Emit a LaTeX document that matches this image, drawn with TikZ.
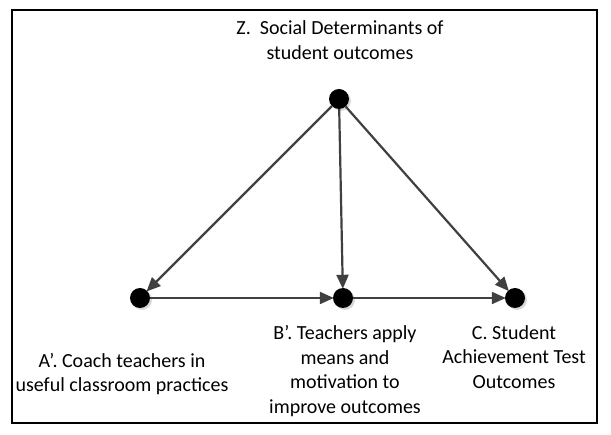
\documentclass[tikz,border=0pt]{standalone}
\usepackage{fontspec}
\setmainfont{Carlito}
\usetikzlibrary{arrows.meta}
\definecolor{arrowgray}{HTML}{404040}
\tikzset{
  dot/.style={circle,fill=black,inner sep=0pt,minimum size=20pt},
  dotshadow/.style={circle,fill=black!15,inner sep=0pt,minimum size=20pt},
  conn/.style={draw=arrowgray,line width=2.2pt,-{Triangle[length=14pt,width=12pt]},shorten >=-1pt},
  lbl/.style={align=center,font=\fontsize{20}{24.5}\selectfont,inner sep=0pt},
  frame/.style={draw=black,line width=1.4pt}
}
\begin{document}
\begin{tikzpicture}[x=1pt,y=-1pt]
\useasboundingbox (0,0) rectangle (611,435);
\draw[frame] (12,10) rectangle (597,423);
% shadows
\node[dotshadow] at (341,101) {};
\node[dotshadow] at (142,300) {};
\node[dotshadow] at (345,300) {};
\node[dotshadow] at (517,300) {};
% nodes
\node[dot] (Z) at (339,99) {};
\node[dot] (A) at (140,298) {};
\node[dot] (B) at (343,298) {};
\node[dot] (C) at (515,298) {};
% connectors
\draw[conn] (Z) -- (A);
\draw[conn] (Z) -- (B);
\draw[conn] (Z) -- (C);
\draw[conn] (A) -- (B);
\draw[conn] (B) -- (C);
% labels
\node[lbl] (tZ) at (340,40) {Z.\ \ Social Determinants of\\student outcomes};
\node[lbl] (tA) at (122,374) {A’. Coach teachers in\\useful classroom practices};
\node[lbl] (tB) at (345,371) {B’. Teachers apply\\means and\\motivation to\\improve outcomes};
\node[lbl] (tC) at (514,357) {C. Student\\Achievement Test\\Outcomes};
\end{tikzpicture}
\end{document}
